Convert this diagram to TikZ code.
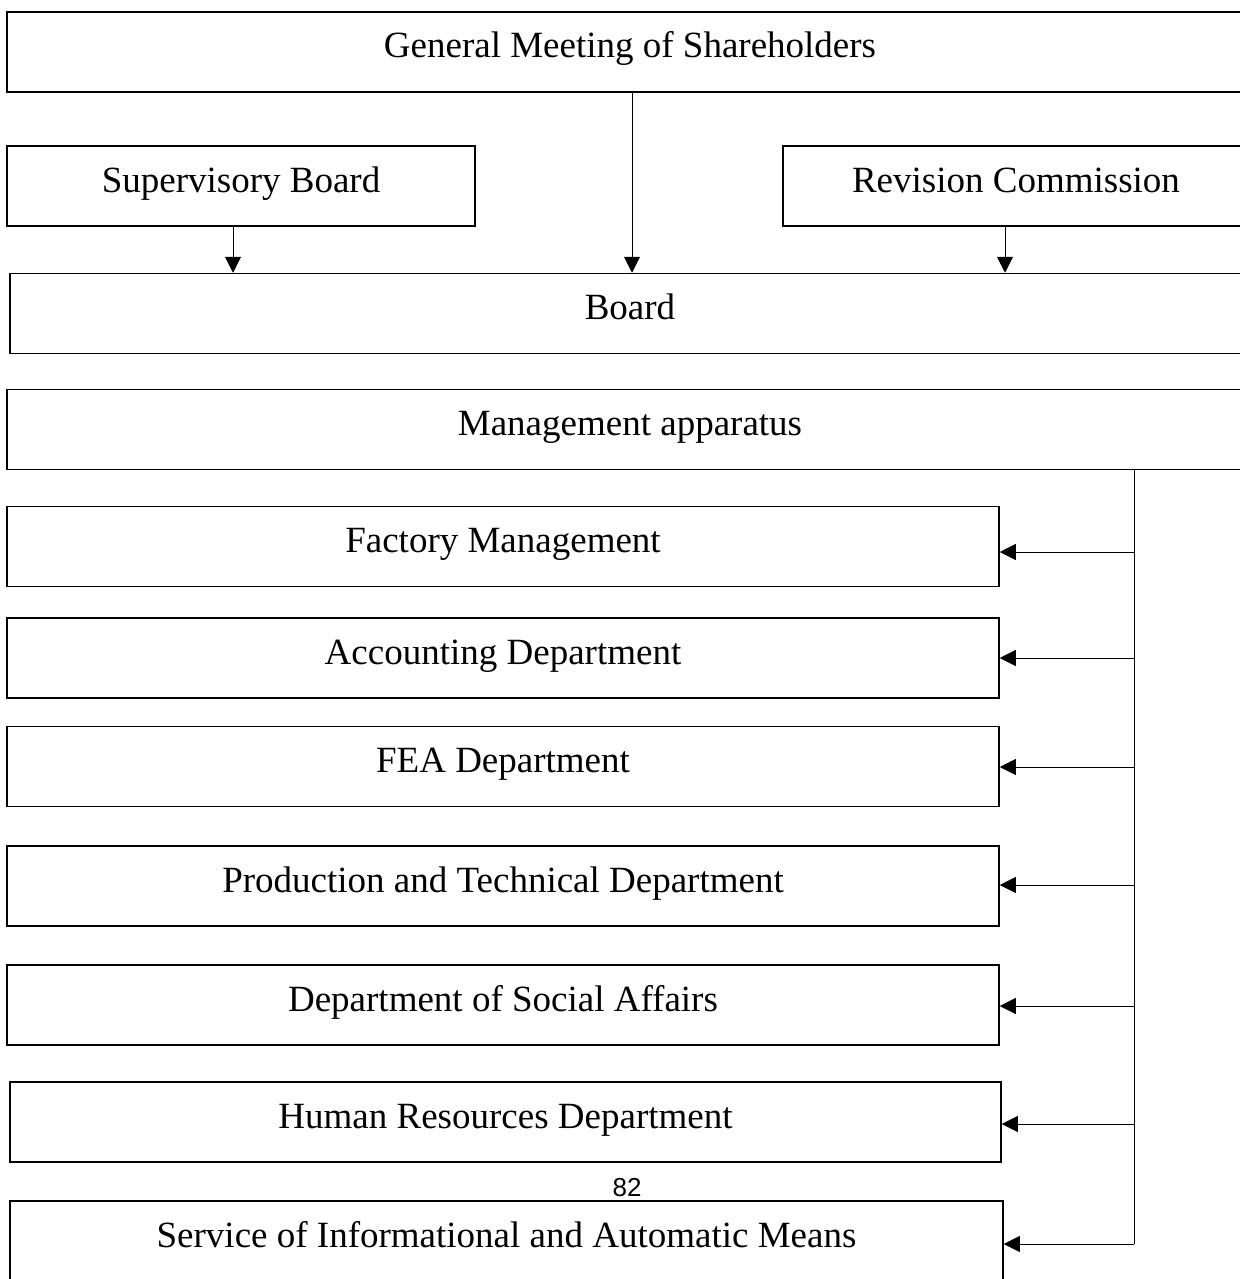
\documentclass[tikz,border=0pt]{standalone}
\usepackage{fontspec}
\setmainfont{Liberation Serif}
\newfontfamily\pagenumfont{Liberation Sans}
\usetikzlibrary{arrows.meta}
\begin{document}
\begin{tikzpicture}[x=0.5pt,y=-0.5pt,
  box/.style={draw, line width=0.75pt, rectangle, inner sep=0pt,
    minimum height=40pt, text height=11pt, text depth=5pt,
    font=\fontsize{18.5}{22}\selectfont},
  arr/.style={line width=0.45pt, -{Triangle[length=8pt,width=8pt]}},
  trunk/.style={line width=0.45pt}]
\useasboundingbox (0,0) rectangle (1240,1279);
\clip (0,0) rectangle (1240,1279);
% top levels
\node[box, minimum width=623pt] (gm) at (630,52) {General Meeting of Shareholders};
\node[box, minimum width=234pt] (sup) at (241,186) {Supervisory Board};
\node[box, minimum width=233pt] (rev) at (1016,186) {Revision Commission};
\node[box, minimum width=620pt] (board) at (630,313.5) {Board};
\node[box, minimum width=623pt] (mgmt) at (630,429.5) {Management apparatus};
% departments
\node[box, minimum width=496pt] (fac) at (503,546.5) {Factory Management};
\node[box, minimum width=496pt] (acc) at (503,658) {Accounting Department};
\node[box, minimum width=496pt] (fea) at (503,766.5) {FEA Department};
\node[box, minimum width=496pt] (prod) at (503,886) {Production and Technical Department};
\node[box, minimum width=496pt] (soc) at (503,1005) {Department of Social Affairs};
\node[box, minimum width=495.5pt] (hr) at (505.5,1122) {Human Resources Department};
\node[box, minimum width=496.5pt] (svc) at (506.5,1241) {Service of Informational and Automatic Means};
\node[font=\pagenumfont\fontsize{13}{15}\selectfont, inner sep=0pt] (pg) at (627,1188) {82};
% vertical arrows to Board
\coordinate (xs) at (233,0);
\coordinate (xg) at (632,0);
\coordinate (xr) at (1005,0);
\draw[arr] (sup.south -| xs) -- (board.north -| xs);
\draw[arr] (gm.south -| xg) -- (board.north -| xg);
\draw[arr] (rev.south -| xr) -- (board.north -| xr);
% trunk from management apparatus
\coordinate (tr) at (1134,0);
\coordinate (t1) at (1134,552);
\coordinate (t2) at (1134,658);
\coordinate (t3) at (1134,767);
\coordinate (t4) at (1134,885);
\coordinate (t5) at (1134,1006);
\coordinate (t6) at (1134,1124);
\coordinate (t7) at (1134,1244);
\draw[trunk] (mgmt.south -| tr) -- (t7);
\draw[arr] (t1) -- (fac.east |- t1);
\draw[arr] (t2) -- (acc.east |- t2);
\draw[arr] (t3) -- (fea.east |- t3);
\draw[arr] (t4) -- (prod.east |- t4);
\draw[arr] (t5) -- (soc.east |- t5);
\draw[arr] (t6) -- (hr.east |- t6);
\draw[arr] (t7) -- (svc.east |- t7);
\end{tikzpicture}
\end{document}
